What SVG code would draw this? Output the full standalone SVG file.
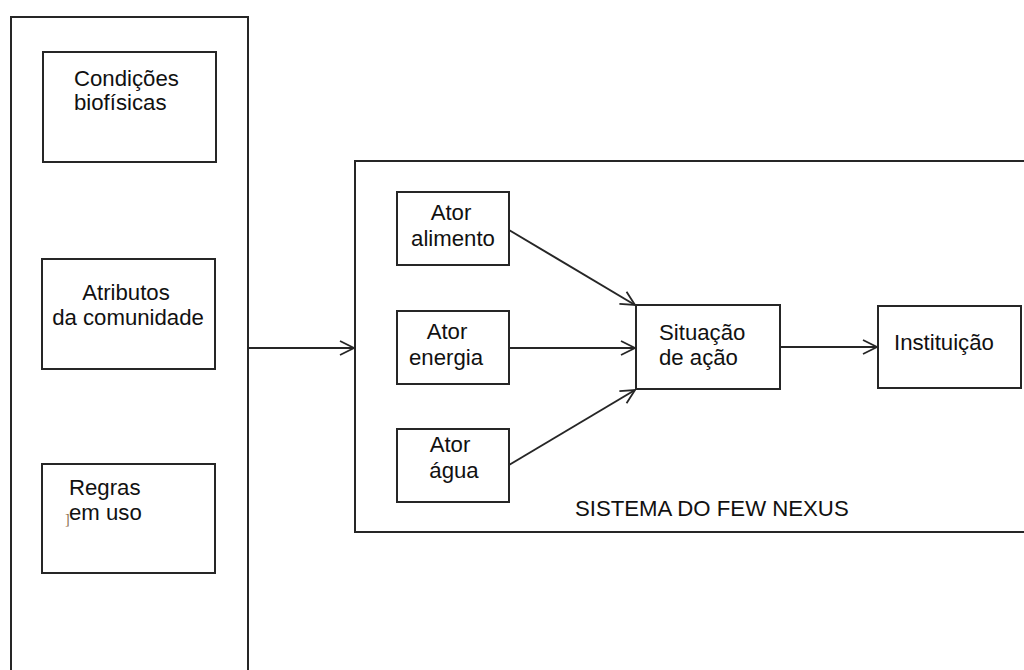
<svg xmlns="http://www.w3.org/2000/svg" width="1024" height="670" viewBox="0 0 1024 670">
<defs>
<style>
.box{fill:#fff;stroke:#262626;stroke-width:2}
.t{font-family:"Liberation Sans",Arial,sans-serif;font-size:22.2px;fill:#111}
.c{text-anchor:middle}
.ln{stroke:#262626;stroke-width:2;fill:none}
</style>
<marker id="ah" viewBox="0 0 16 16" refX="15" refY="8" markerWidth="16" markerHeight="16" markerUnits="userSpaceOnUse" orient="auto">
<path d="M1,1 L15,8 L1,15" fill="none" stroke="#262626" stroke-width="1.8"/>
</marker>
</defs>
<rect width="1024" height="670" fill="#fff"/>
<g id="contexto">
<rect class="box" x="11" y="17" width="237" height="680"/>
</g>
<g id="condicoes">
<rect class="box" x="43" y="52" width="173" height="110"/>
<text class="t" x="74" y="86">Condições</text>
<text class="t" x="74" y="110">biofísicas</text>
</g>
<g id="atributos">
<rect class="box" x="42" y="259" width="173" height="110"/>
<text class="t c" x="126" y="300">Atributos</text>
<text class="t c" x="128" y="325">da comunidade</text>
</g>
<g id="regras">
<rect class="box" x="42" y="464" width="173" height="109"/>
<text class="t" x="69" y="495">Regras</text>
<text class="t" x="69" y="520">em uso</text>
<text x="65" y="524" font-family="Liberation Serif,serif" font-size="14" fill="#8a6a4a">]</text>
</g>
<g id="sistema">
<rect class="box" x="355" y="161" width="700" height="371"/>
<text class="t" x="575" y="516">SISTEMA DO FEW NEXUS</text>
</g>
<g id="ator-alimento">
<rect class="box" x="397" y="192" width="112" height="73"/>
<text class="t c" x="451" y="220">Ator</text>
<text class="t c" x="453" y="246">alimento</text>
</g>
<g id="ator-energia">
<rect class="box" x="397" y="311" width="112" height="73"/>
<text class="t c" x="447" y="339">Ator</text>
<text class="t c" x="446" y="365">energia</text>
</g>
<g id="ator-agua">
<rect class="box" x="397" y="429" width="112" height="73"/>
<text class="t c" x="450" y="452">Ator</text>
<text class="t c" x="454" y="478">água</text>
</g>
<g id="situacao">
<rect class="box" x="636" y="305" width="144" height="84"/>
<text class="t" x="659" y="340">Situação</text>
<text class="t" x="659" y="365">de ação</text>
</g>
<g id="instituicao">
<rect class="box" x="878" y="306" width="143" height="82"/>
<text class="t" x="894" y="350">Instituição</text>
</g>
<g id="connectors">
<line class="ln" x1="248" y1="348" x2="354" y2="348" marker-end="url(#ah)"/>
<line class="ln" x1="509" y1="230" x2="635" y2="305" marker-end="url(#ah)"/>
<line class="ln" x1="509" y1="348" x2="635" y2="348" marker-end="url(#ah)"/>
<line class="ln" x1="509" y1="465" x2="635" y2="390" marker-end="url(#ah)"/>
<line class="ln" x1="780" y1="347" x2="877" y2="347" marker-end="url(#ah)"/>
</g>
</svg>
